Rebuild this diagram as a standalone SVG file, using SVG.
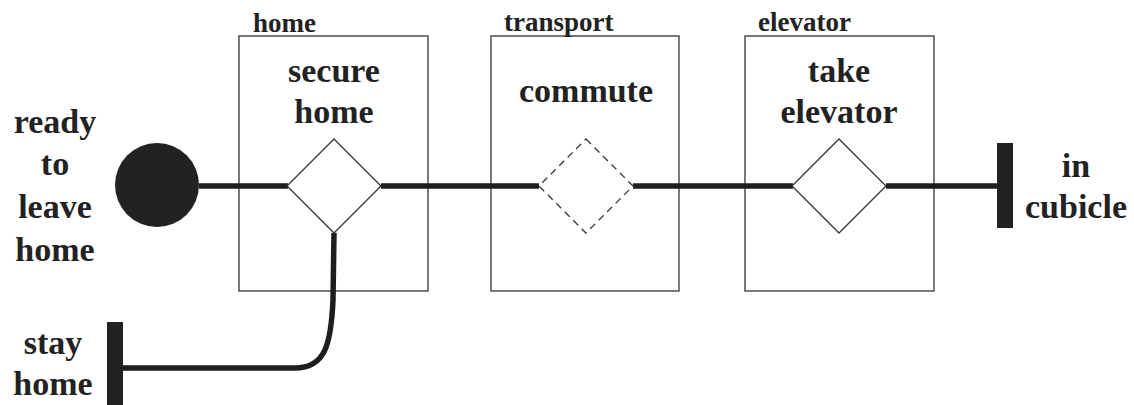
<svg xmlns="http://www.w3.org/2000/svg" width="1134" height="405" viewBox="0 0 1134 405">
  <style>
    .lane { fill: none; stroke: #333; stroke-width: 1.3; }
    .gate { fill: #fff; stroke: #333; stroke-width: 1.3; }
    .gate.pending { stroke-dasharray: 7 5; }
    .flow { fill: none; stroke: #1e1e1e; stroke-width: 5.5; }
    .bar { fill: #222; }
    .big { font-size: 34px; text-anchor: middle; }
    .lab { font-size: 27px; }
  </style>
  <rect width="1134" height="405" fill="#fff"/>

  <g font-family="Liberation Serif, Times New Roman, serif" font-weight="bold" fill="#222">
    <!-- swimlane boxes -->
    <g id="lane-home">
      <rect class="lane" x="239" y="36" width="189" height="255"/>
      <text class="lab" x="253" y="32">home</text>
    </g>
    <g id="lane-transport">
      <rect class="lane" x="491" y="36" width="188" height="255"/>
      <text class="lab" x="504" y="31">transport</text>
    </g>
    <g id="lane-elevator">
      <rect class="lane" x="745" y="36" width="189" height="255"/>
      <text class="lab" x="758" y="31">elevator</text>
    </g>

    <!-- connectors -->
    <g id="connectors">
      <path class="flow" d="M199 186 H288"/>
      <path class="flow" d="M381 186 H539"/>
      <path class="flow" d="M633 186 H793"/>
      <path class="flow" d="M886 186 H999"/>
      <path class="flow" d="M334 233 L333 300 C331 345 325 368 295 368 L121 368"/>
    </g>

    <!-- start state -->
    <g id="start">
      <circle cx="157" cy="185" r="42" fill="#222"/>
      <text class="big"><tspan x="55" y="133">ready</tspan><tspan x="55" y="175">to</tspan><tspan x="55" y="218">leave</tspan><tspan x="55" y="261">home</tspan></text>
    </g>

    <!-- activities -->
    <g id="secure-home">
      <polygon class="gate" points="334,139 381,186 334,233 287,186"/>
      <text class="big"><tspan x="334" y="82">secure</tspan><tspan x="334" y="123">home</tspan></text>
    </g>
    <g id="commute">
      <polygon class="gate pending" points="586,139 633,186 586,233 539,186"/>
      <text class="big" x="586" y="102">commute</text>
    </g>
    <g id="take-elevator">
      <polygon class="gate" points="839,139 886,186 839,233 792,186"/>
      <text class="big"><tspan x="839" y="82">take</tspan><tspan x="839" y="123">elevator</tspan></text>
    </g>

    <!-- end states -->
    <g id="in-cubicle">
      <rect class="bar" x="997" y="143" width="16" height="85"/>
      <text class="big"><tspan x="1076" y="177">in</tspan><tspan x="1076" y="218">cubicle</tspan></text>
    </g>
    <g id="stay-home">
      <rect class="bar" x="107" y="322" width="16" height="83"/>
      <text class="big"><tspan x="53" y="354">stay</tspan><tspan x="53" y="395">home</tspan></text>
    </g>
  </g>
</svg>
